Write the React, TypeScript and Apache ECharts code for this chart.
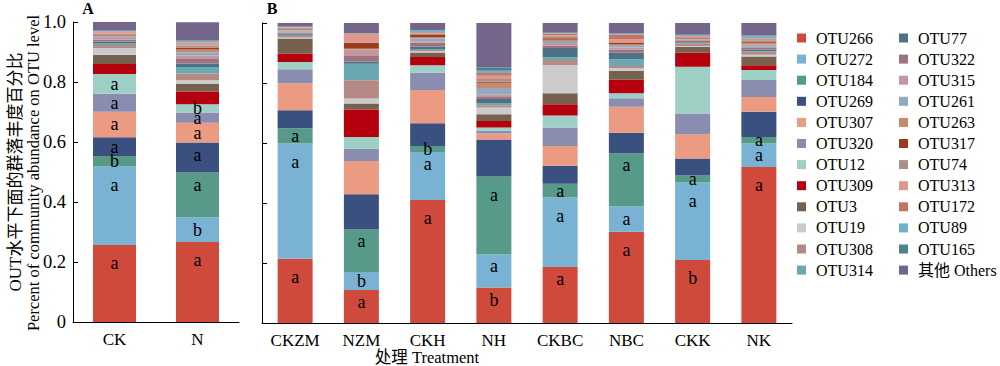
import React, { useEffect, useRef } from 'react';
import * as echarts from 'echarts';

const categoriesA = ['CK', 'N'];
const categoriesB = ['CKZM', 'NZM', 'CKH', 'NH', 'CKBC', 'NBC', 'CKK', 'NK'];
const yTicks = [0, 0.2, 0.4, 0.6, 0.8, 1.0];

const otuNames = [
  'OTU266', 'OTU272', 'OTU184', 'OTU269', 'OTU307', 'OTU320', 'OTU12', 'OTU309',
  'OTU3', 'OTU19', 'OTU308', 'OTU314', 'OTU77', 'OTU322', 'OTU315', 'OTU261',
  'OTU263', 'OTU317', 'OTU74', 'OTU313', 'OTU172', 'OTU89', 'OTU165', '其他 Others',
];
const otuColors = [
  '#d04a3c', '#79b2d3', '#579a89', '#3a5180', '#ea9b81', '#8b8db0', '#9ecfc5', '#b5000e',
  '#76604e', '#cbcbcb', '#b68a84', '#69a7b1', '#4d7185', '#9b7484', '#c4979c', '#93a9bf',
  '#c58a6e', '#9c3c1c', '#a89189', '#e0968a', '#c97462', '#6fb0cc', '#4e8489', '#73668a',
];

// order: CK, N, CKZM, NZM, CKH, NH, CKBC, NBC, CKK, NK
const otu266 = [0.257, 0.267, 0.214, 0.110, 0.410, 0.118, 0.187, 0.304, 0.210, 0.520];
const otu272 = [0.261, 0.082, 0.384, 0.060, 0.160, 0.111, 0.231, 0.084, 0.258, 0.078];
const otu184 = [0.035, 0.149, 0.051, 0.142, 0.020, 0.259, 0.046, 0.178, 0.024, 0.022];
const otu269 = [0.063, 0.100, 0.060, 0.117, 0.076, 0.124, 0.060, 0.068, 0.056, 0.084];
const otu307 = [0.085, 0.066, 0.090, 0.111, 0.111, 0.020, 0.066, 0.087, 0.081, 0.049];
const otu320 = [0.060, 0.034, 0.047, 0.041, 0.057, 0.009, 0.062, 0.028, 0.069, 0.057];
const otu12 = [0.066, 0.028, 0.024, 0.039, 0.025, 0.011, 0.040, 0.017, 0.156, 0.033];
const otu309 = [0.033, 0.042, 0.028, 0.092, 0.028, 0.021, 0.037, 0.045, 0.047, 0.016];
const otu3 = [0.031, 0.025, 0.050, 0.020, 0.015, 0.023, 0.037, 0.029, 0.020, 0.029];
const otu19 = [0.022, 0.013, 0.004, 0.016, 0.004, 0.022, 0.094, 0.009, 0.002, 0.006];
const otu308 = [0.010, 0.022, 0.005, 0.061, 0.004, 0.008, 0.017, 0.008, 0.008, 0.010];
const otu314 = [0.005, 0.022, 0.004, 0.055, 0.003, 0.006, 0.009, 0.022, 0.002, 0.003];
const otu77 = [0.007, 0.011, 0.003, 0.007, 0.008, 0.015, 0.031, 0.022, 0.003, 0.004];
const otu322 = [0.006, 0.016, 0.004, 0.019, 0.013, 0.006, 0.008, 0.011, 0.004, 0.006];
const otu315 = [0.006, 0.011, 0.003, 0.020, 0.005, 0.008, 0.008, 0.006, 0.003, 0.004];
const otu261 = [0.005, 0.011, 0.004, 0.002, 0.010, 0.022, 0.007, 0.006, 0.002, 0.007];
const otu263 = [0.003, 0.009, 0.003, 0.002, 0.004, 0.018, 0.004, 0.004, 0.003, 0.006];
const otu317 = [0.003, 0.006, 0.003, 0.020, 0.007, 0.003, 0.005, 0.006, 0.003, 0.003];
const otu74 = [0.003, 0.008, 0.002, 0.002, 0.003, 0.009, 0.004, 0.003, 0.002, 0.003];
const otu313 = [0.004, 0.006, 0.002, 0.027, 0.003, 0.011, 0.006, 0.008, 0.002, 0.004];
const otu172 = [0.003, 0.004, 0.001, 0.002, 0.003, 0.009, 0.006, 0.016, 0.002, 0.004];
const otu89 = [0.002, 0.004, 0.001, 0.001, 0.006, 0.008, 0.002, 0.003, 0.002, 0.008];
const otu165 = [0.002, 0.002, 0.001, 0.001, 0.002, 0.011, 0.002, 0.002, 0.002, 0.002];
const others = [0.028, 0.061, 0.012, 0.033, 0.023, 0.148, 0.031, 0.034, 0.039, 0.042];

const otuValues = [
  otu266, otu272, otu184, otu269, otu307, otu320, otu12, otu309, otu3, otu19, otu308, otu314,
  otu77, otu322, otu315, otu261, otu263, otu317, otu74, otu313, otu172, otu89, otu165, others,
];

// significance letters
const letters266 = ['a', 'a', 'a', 'a', 'a', 'b', 'a', 'a', 'b', 'a'];
const letters272 = ['a', 'b', 'a', 'b', 'a', 'a', 'a', 'a', 'a', 'a'];
const letters184 = ['b', 'a', 'a', 'a', 'b', 'a', 'a', 'a', 'a', 'a'];
const letters269 = ['a', 'a'];
const letters307 = ['a', 'a'];
const letters320 = ['a', 'a'];
const letters12 = ['a', 'b'];
const lettersBySeries: (string[] | null)[] = [
  letters266, letters272, letters184, letters269, letters307, letters320, letters12,
];

const FONT = "'Liberation Serif', 'Times New Roman', 'Noto Sans CJK SC', serif";
const PLOT_H = 300;

function makeItem(v: number, letter: string | undefined) {
  if (!letter) return v;
  const px = v * PLOT_H;
  let position: string = 'inside';
  let distance = 0;
  if (px >= 60) {
    position = 'insideTop';
    distance = 9;
  } else if (px >= 28) {
    position = 'insideTop';
    distance = 3;
  }
  return {
    value: v,
    label: {
      show: true,
      formatter: letter,
      position,
      distance,
      color: '#000',
      fontFamily: FONT,
      fontSize: 18,
    },
  };
}

export default function App() {
  const ref = useRef<HTMLDivElement>(null);
  useEffect(() => {
    document.body.style.margin = '0';
    if (!ref.current) return;
    const chart = echarts.init(ref.current, undefined, { renderer: 'svg' });

    const series: any[] = [];
    otuNames.forEach((name, i) => {
      const vals = otuValues[i];
      const lets = lettersBySeries[i] || [];
      const dataA = vals.slice(0, 2).map((v, j) => makeItem(v, lets[j]));
      const dataB = vals.slice(2).map((v, j) => makeItem(v, lets[j + 2]));
      series.push({
        name,
        type: 'bar',
        stack: 'A',
        xAxisIndex: 0,
        yAxisIndex: 0,
        barWidth: 43,
        itemStyle: { color: otuColors[i] },
        data: dataA,
      });
      series.push({
        name,
        type: 'bar',
        stack: 'B',
        xAxisIndex: 1,
        yAxisIndex: 1,
        barWidth: 35,
        itemStyle: { color: otuColors[i] },
        data: dataB,
      });
    });

    const axisLine = { show: true, lineStyle: { color: '#000', width: 1 } };
    const xAxisCommon = {
      type: 'category',
      axisLine,
      axisTick: { show: true, inside: true, alignWithLabel: true, length: 6, lineStyle: { color: '#000' } },
      axisLabel: { color: '#000', fontFamily: FONT, fontSize: 17, margin: 9 },
    };
    const yAxisCommon = {
      type: 'value',
      min: 0,
      max: 1,
      interval: 0.2,
      axisLine,
      axisTick: { show: true, inside: true, length: 5, lineStyle: { color: '#000' } },
      splitLine: { show: false },
    };

    const legendCommon = {
      orient: 'vertical',
      icon: 'rect',
      padding: 0,
      itemWidth: 9,
      itemHeight: 9,
      itemGap: 5.1,
      selectedMode: false,
      textStyle: { color: '#000', fontFamily: FONT, fontSize: 16, lineHeight: 16, padding: [0, 0, 0, 5] },
    };

    chart.setOption({
      animation: false,
      backgroundColor: '#fff',
      grid: [
        { left: 73, top: 22, width: 166, height: 300 },
        { left: 262, top: 23, width: 530, height: 300 },
      ],
      xAxis: [
        { ...xAxisCommon, gridIndex: 0, data: categoriesA },
        { ...xAxisCommon, gridIndex: 1, data: categoriesB },
      ],
      yAxis: [
        {
          ...yAxisCommon,
          gridIndex: 0,
          axisLabel: {
            color: '#000',
            fontFamily: FONT,
            fontSize: 18.5,
            margin: 7,
            formatter: (v: number) => {
              const t = yTicks.find((k) => Math.abs(k - v) < 1e-6);
              const val = t === undefined ? v : t;
              return val === 0 ? '0' : val.toFixed(1);
            },
          },
        },
        { ...yAxisCommon, gridIndex: 1, axisLabel: { show: false } },
      ],
      legend: [
        { ...legendCommon, left: 797, top: 30, data: otuNames.slice(0, 12) },
        { ...legendCommon, left: 899, top: 30, data: otuNames.slice(12) },
      ],
      graphic: [
        {
          type: 'text',
          x: 88,
          y: 8,
          style: { text: 'A', font: `bold 16px ${FONT}`, fill: '#000', textAlign: 'center', textVerticalAlign: 'middle' },
        },
        {
          type: 'text',
          x: 272,
          y: 8,
          style: { text: 'B', font: `bold 16px ${FONT}`, fill: '#000', textAlign: 'center', textVerticalAlign: 'middle' },
        },
        {
          type: 'text',
          x: 15,
          y: 172,
          rotation: Math.PI / 2,
          style: {
            text: 'OUT水平下面的群落丰度百分比',
            font: `17px ${FONT}`,
            fill: '#000',
            textAlign: 'center',
            textVerticalAlign: 'middle',
          },
        },
        {
          type: 'text',
          x: 33,
          y: 173,
          rotation: Math.PI / 2,
          style: {
            text: 'Percent of community abundance on OTU level',
            font: `16.5px ${FONT}`,
            fill: '#000',
            textAlign: 'center',
            textVerticalAlign: 'middle',
          },
        },
        {
          type: 'text',
          x: 427,
          y: 357,
          style: {
            text: '处理 Treatment',
            font: `16.5px ${FONT}`,
            fill: '#000',
            textAlign: 'center',
            textVerticalAlign: 'middle',
          },
        },
      ],
      series,
    });
    return () => chart.dispose();
  }, []);
  return <div ref={ref} style={{ width: 1000, height: 366 }} />;
}
